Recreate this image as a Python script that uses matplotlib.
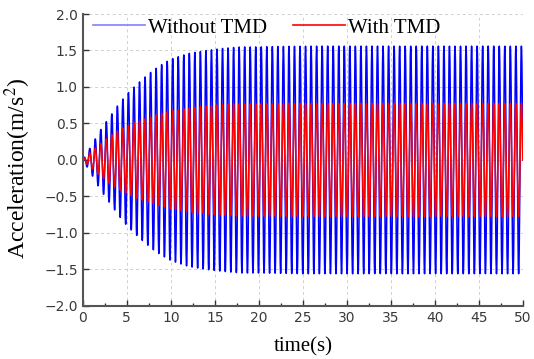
import numpy as np
import matplotlib
matplotlib.use("Agg")
import matplotlib.pyplot as plt

plt.rcParams["mathtext.fontset"] = "stix"

# envelope of the response (peak acceleration, m/s^2)
env_t = [0, 1, 2, 3, 4, 5, 6, 7, 8, 9, 10, 12, 14, 16, 18, 20, 25, 30, 50]
env_without = [0, 0.20, 0.41, 0.58, 0.75, 0.90, 1.02, 1.13, 1.23, 1.31, 1.38,
               1.46, 1.50, 1.53, 1.55, 1.55, 1.56, 1.56, 1.56]
env_with = [0, 0.12, 0.22, 0.32, 0.40, 0.46, 0.52, 0.56, 0.60, 0.64, 0.67,
            0.71, 0.74, 0.76, 0.77, 0.77, 0.775, 0.775, 0.775]
freq = 1.59        # excitation frequency (Hz), counted from the peaks
dt = 0.01

t = np.arange(0, 50 + dt, dt)
carrier = np.sin(2 * np.pi * freq * t)
acc_without = np.interp(t, env_t, env_without) * carrier
acc_with = np.interp(t, env_t, env_with) * carrier

serif = "Liberation Serif"

fig = plt.figure(figsize=(5.34, 3.59), dpi=100)
ax = fig.add_axes([0.155, 0.148, 0.824, 0.813])

ax.plot(t, acc_without, color="#0000ff", lw=1.1)
ax.plot(t, acc_with, color="#ff0000", lw=1.1)

# legend handles (the blue one is drawn lighter in the original)
h1, = ax.plot([], [], color="#8080ff", lw=1.2, label="Without TMD")
h2, = ax.plot([], [], color="#ff0000", lw=1.2, label="With TMD")
ax.legend(handles=[h1, h2], loc="upper left", ncol=2, frameon=False,
          prop={"family": serif, "size": 15}, handlelength=2.5,
          handletextpad=0.15, columnspacing=1.2, borderaxespad=0.1,
          bbox_to_anchor=(0.0, 1.022))

ax.set_xlim(0, 50)
ax.set_ylim(-2, 2)
ax.set_xticks(np.arange(0, 51, 5))
ax.set_xticks(np.arange(2.5, 50, 5), minor=True)
ax.set_yticks(np.arange(-2, 2.01, 0.5))
ax.tick_params(direction="in", length=4, width=1, colors="#333333",
               labelsize=10, labelcolor="#3a3a3a")
ax.tick_params(which="minor", direction="in", length=2.5, width=1,
               colors="#333333")

for side in ("top", "right"):
    ax.spines[side].set_visible(False)
for side in ("left", "bottom"):
    ax.spines[side].set_color("#555555")
    ax.spines[side].set_linewidth(1.5)

ax.grid(True, linestyle=(0, (3, 3)), color="#d0d0d0", lw=0.7)
ax.set_axisbelow(True)

ax.set_xlabel("time(s)", family=serif, fontsize=15, labelpad=9)
ax.set_ylabel("Acceleration(m/s$^2$)", family=serif, fontsize=17)
ax.yaxis.set_label_coords(-0.114, 0.47)

fig.savefig("out.png", dpi=100)
